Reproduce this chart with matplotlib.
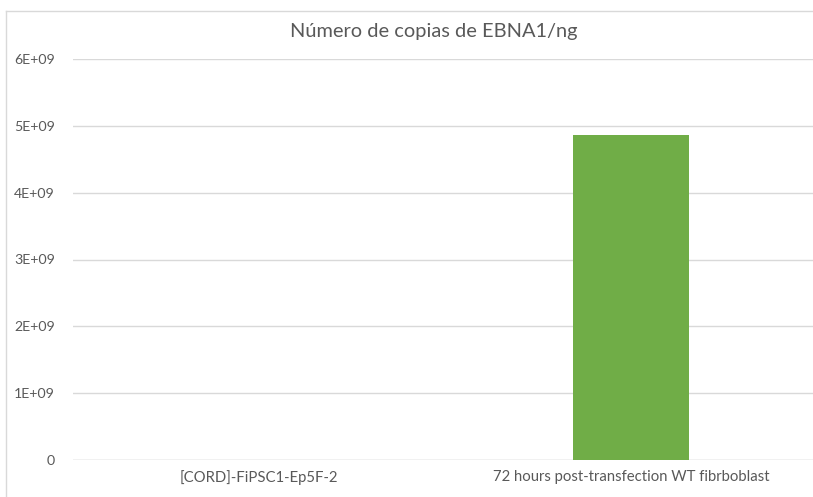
import matplotlib.pyplot as plt
from matplotlib.lines import Line2D
from matplotlib.ticker import FuncFormatter

plt.rcParams['font.family'] = ['Lato', 'DejaVu Sans']

categories = ['[CORD]-FiPSC1-Ep5F-2', '72 hours post-transfection WT fibrboblast']
copies = [0, 4.87e9]
yticks = [0, 1e9, 2e9, 3e9, 4e9, 5e9, 6e9]

txt = '#595959'
grid = '#D9D9D9'

fig = plt.figure(figsize=(8.13, 4.97), dpi=100)
ax = fig.add_axes([73/813, 37/497, 744/813, 401/497])
ax.set_clip_on(True)

ax.bar(range(len(categories)), copies, width=0.31, color='#70AD47', zorder=3)

ax.set_xlim(-0.5, 1.5)
ax.set_ylim(0, 6e9)
ax.set_yticks(yticks)
ax.yaxis.set_major_formatter(FuncFormatter(lambda v, p: '0' if v == 0 else f'{v:.0E}'))
ax.set_xticks(range(len(categories)))
ax.set_xticklabels(categories)

ax.grid(axis='y', color=grid, lw=1, zorder=0)
for s in ax.spines.values():
    s.set_visible(False)
ax.axhline(0, color=grid, lw=1, zorder=1)
ax.tick_params(length=0, colors=txt)
ax.tick_params(axis='y', pad=13, labelsize=10.2)
ax.tick_params(axis='x', pad=7, labelsize=10.7)
ax.tick_params(axis='x', which='minor', length=0)

fig.text(434/813, 1 - 31/497, 'Número de copias de EBNA1/ng', ha='center', va='center',
         fontsize=14.4, color=txt)

# chart frame, only left and top edges fall inside the crop
fig.add_artist(Line2D([6/813, 6/813], [0, 1 - 11/497], transform=fig.transFigure, color=grid, lw=1))
fig.add_artist(Line2D([6/813, 1.01], [1 - 11/497, 1 - 11/497], transform=fig.transFigure, color=grid, lw=1))

fig.savefig('out.png', dpi=100, facecolor='white', edgecolor='white')
